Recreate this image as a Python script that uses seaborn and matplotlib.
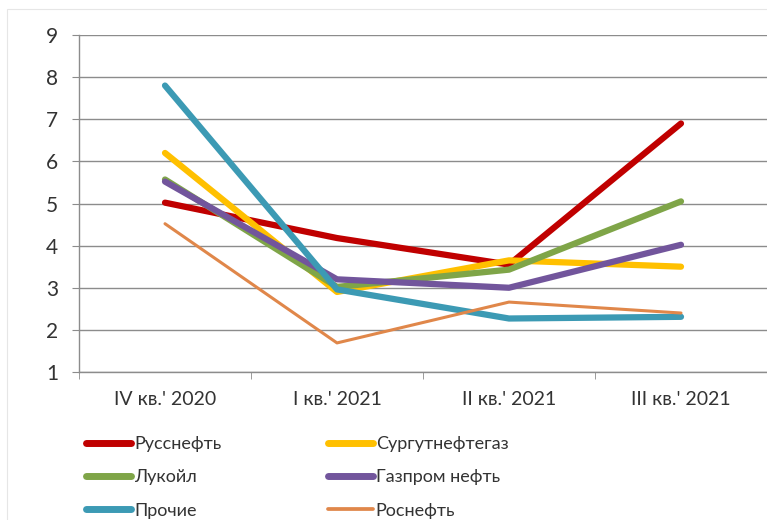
"""Line chart: quarterly values by oil company."""

import matplotlib.pyplot as plt
import pandas as pd
import seaborn as sns
from matplotlib.lines import Line2D
from matplotlib.patches import Rectangle

# Data.
quarters = ["IV кв.' 2020", "I кв.' 2021", "II кв.' 2021", "III кв.' 2021"]
russneft = [5.02, 4.18, 3.55, 6.9]
surgut = [6.2, 2.9, 3.65, 3.5]
lukoil = [5.57, 3.02, 3.43, 5.05]
gazprom_neft = [5.52, 3.2, 3.0, 4.02]
prochie = [7.8, 2.96, 2.27, 2.31]
rosneft = [4.52, 1.69, 2.66, 2.4]

series = {
    "Русснефть": russneft,
    "Сургутнефтегаз": surgut,
    "Лукойл": lukoil,
    "Газпром нефть": gazprom_neft,
    "Прочие": prochie,
    "Роснефть": rosneft,
}
colors = {
    "Русснефть": "#C00000",
    "Сургутнефтегаз": "#FFC000",
    "Лукойл": "#7FA548",
    "Газпром нефть": "#72559C",
    "Прочие": "#3C9AB4",
    "Роснефть": "#E0874A",
}
widths = {name: 4.5 for name in series}
widths["Роснефть"] = 2.2

# Long-form table for seaborn.
rows = []
for name, values in series.items():
    for pos, val in enumerate(values):
        rows.append({"pos": pos, "value": val, "company": name})
data = pd.DataFrame(rows)

sns.set_style("white")
plt.rcParams["font.family"] = ["Lato", "DejaVu Sans"]

fig = plt.figure(figsize=(7.67, 5.20), dpi=100)

# Faint outer chart-area border.
fig.add_artist(Rectangle((7 / 767, -0.05), 1.2, 1 - 9 / 520 + 0.05, transform=fig.transFigure,
                         fill=False, edgecolor="#E6E6E6", linewidth=0.8))

ax = fig.add_axes([79 / 767, 1 - 372 / 520, 1 - 79 / 767, (372 - 35) / 520])

for name in series:
    sns.lineplot(
        data=data[data["company"] == name],
        x="pos",
        y="value",
        color=colors[name],
        linewidth=widths[name],
        solid_capstyle="round",
        ax=ax,
        legend=False,
    )

ax.set_xlim(-0.5, 3.5)
ax.set_ylim(1, 9)
ax.set_yticks(range(1, 10))
ax.set_xticks(range(4))
ax.set_xticklabels(quarters)
ax.set_xticks([-0.5, 0.5, 1.5, 2.5, 3.5], minor=True)
ax.set_xlabel("")
ax.set_ylabel("")

ax.grid(axis="y", color="#8C8C8C", linewidth=1.0)
ax.set_axisbelow(True)
for side in ["top", "right"]:
    ax.spines[side].set_visible(False)
for side in ["left", "bottom"]:
    ax.spines[side].set_color("#8C8C8C")
    ax.spines[side].set_linewidth(1.0)

ax.tick_params(axis="y", left=True, length=5, color="#8C8C8C", pad=10, labelsize=15, labelcolor="#333333")
ax.tick_params(axis="x", which="major", length=0, pad=14, labelsize=14, labelcolor="#333333")
ax.tick_params(axis="x", which="minor", bottom=True, length=5, color="#8C8C8C")

# Legend in two columns under the chart.
order = ["Русснефть", "Лукойл", "Прочие", "Сургутнефтегаз", "Газпром нефть", "Роснефть"]
handles = [Line2D([], [], color=colors[n], linewidth=widths[n] + 0.5, solid_capstyle="round") for n in order]
fig.legend(
    handles,
    order,
    ncol=2,
    loc="upper left",
    bbox_to_anchor=(70 / 767, 1 - 420 / 520),
    frameon=False,
    fontsize=13,
    handlelength=2.5,
    handletextpad=0.15,
    columnspacing=5.9,
    labelspacing=0.95,
    labelcolor="#333333",
)

fig.savefig("out.png", dpi=100)
